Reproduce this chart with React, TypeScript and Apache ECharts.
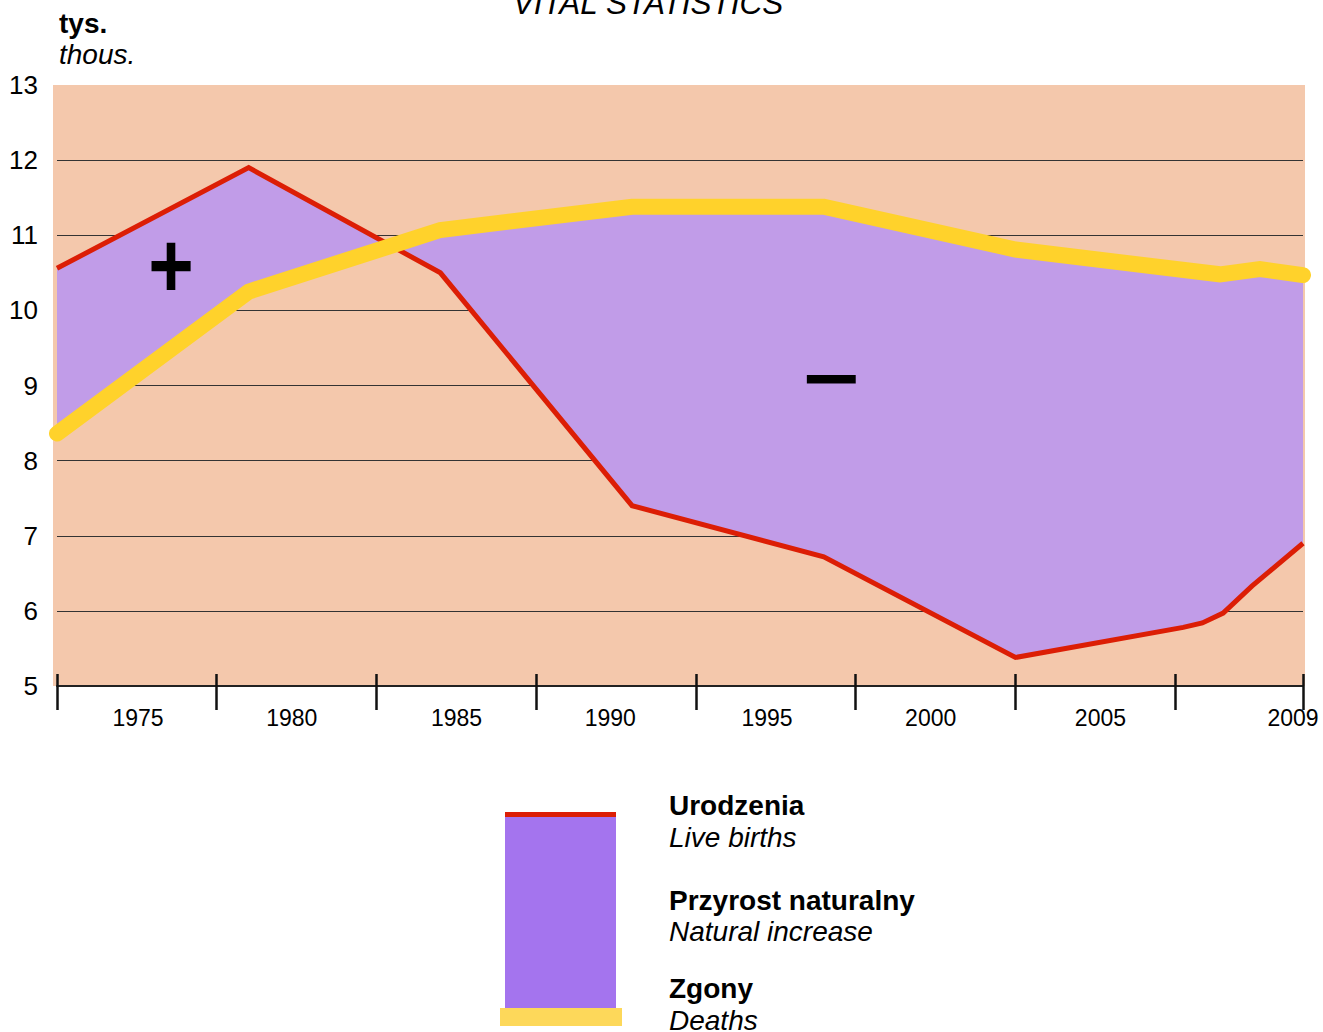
import React, { useEffect, useRef } from 'react';
import * as echarts from 'echarts';

// Live births (thous.)
const birthYears = [1970, 1976, 1982, 1988, 1994, 2000, 2005.25, 2005.85, 2006.5, 2007.4, 2009];
const births = [10.56, 11.9, 10.5, 7.4, 6.72, 5.38, 5.78, 5.84, 5.97, 6.33, 6.9];
// Deaths (thous.)
const deathYears = [1970, 1976, 1982, 1988, 1994, 2000, 2006.4, 2007.65, 2009];
const deaths = [8.36, 10.25, 11.07, 11.38, 11.38, 10.81, 10.48, 10.55, 10.47];
// x-axis tick labels (shown between ticks)
const xTickLabels = ['1975', '1980', '1985', '1990', '1995', '2000', '2005', '2009'];

const FONT = '"Liberation Sans", Arial, Helvetica, sans-serif';
const PEACH = '#F4C8AC';
const PURPLE = '#C19CE8';
const YELLOW = '#FFD22B';
const RED = '#DC1E05';
const LEG_PURPLE = '#A474EE';
const LEG_YELLOW = '#FDD85A';
// horizontal shift (px) of each between-tick label from its left tick
const LABEL_SHIFT = [81, 75, 80, 74, 71, 75, 85];

export default function App() {
  const ref = useRef<HTMLDivElement>(null);
  useEffect(() => {
    if (!ref.current) return;
    const chart = echarts.init(ref.current, undefined, { renderer: 'svg' });
    const xFormatter = (v: number) => {
      if (v === 2009) return '{e|' + xTickLabels[7] + '}';
      const idx = Math.round((v - 1970) / 5);
      if (idx >= 0 && idx < 7) return '{s' + idx + '|' + xTickLabels[idx] + '}';
      return '';
    };
    const labelRich: any = {
      e: { fontSize: 23, fontFamily: FONT, color: '#000', padding: [0, 20, 0, 0] },
    };
    LABEL_SHIFT.forEach((s, i) => {
      labelRich['s' + i] = { fontSize: 23, fontFamily: FONT, color: '#000', padding: [0, 0, 0, 2 * s] };
    });
    const gridColors = ['rgba(0,0,0,0)', '#333', '#333', '#333', '#333', '#333', '#333', '#333', 'rgba(0,0,0,0)'];
    const legendText = (text: string, y: number, bold: boolean) => ({
      type: 'text',
      x: 669,
      y,
      style: {
        text,
        fill: '#000',
        font: (bold ? 'normal bold ' : 'italic normal ') + '28px ' + FONT,
        align: 'left',
        verticalAlign: 'middle',
      },
    });
    chart.setOption({
      animation: false,
      backgroundColor: '#fff',
      grid: { left: 57, right: 20, top: 85, bottom: 346, containLabel: false, outerBoundsMode: 'none' },
      xAxis: [
        {
          type: 'value', min: 1970, max: 2009, interval: 5, position: 'bottom',
          axisLine: { show: true, onZero: false, lineStyle: { color: '#222', width: 2 } },
          axisTick: { show: true, length: 24, lineStyle: { color: '#111', width: 2.5 } },
          axisLabel: {
            formatter: xFormatter, rich: labelRich, margin: 20, color: '#000', fontSize: 23,
            fontFamily: FONT, showMinLabel: true, showMaxLabel: true,
          },
          splitLine: { show: false },
        },
        {
          type: 'value', min: 1970, max: 2009, interval: 5, position: 'bottom',
          axisLine: { show: false },
          axisTick: { show: true, inside: true, length: 12, lineStyle: { color: '#111', width: 2.5 } },
          axisLabel: { show: false },
          splitLine: { show: false },
        },
      ],
      yAxis: {
        type: 'value', min: 5, max: 13, interval: 1,
        axisLine: { show: false }, axisTick: { show: false },
        axisLabel: { fontSize: 26, color: '#000', margin: 19, fontFamily: FONT, padding: [6, 0, 0, 0] },
        splitLine: { show: true, lineStyle: { color: gridColors, width: 1 } },
      },
      series: [
        {
          type: 'custom',
          coordinateSystem: 'cartesian2d',
          xAxisIndex: 0, yAxisIndex: 0,
          data: [[1970, 5]],
          clip: false,
          silent: true,
          z: 2,
          renderItem: (params: any, api: any) => {
            const pts: number[][] = [];
            birthYears.forEach((yr, i) => pts.push(api.coord([yr, births[i]])));
            for (let i = deathYears.length - 1; i >= 0; i--) pts.push(api.coord([deathYears[i], deaths[i]]));
            return { type: 'polygon', shape: { points: pts }, style: { fill: PURPLE } };
          },
        },
        {
          name: 'Urodzenia', type: 'line', z: 3, showSymbol: false, clip: false, silent: true,
          data: birthYears.map((yr, i) => [yr, births[i]]),
          lineStyle: { color: RED, width: 5, cap: 'butt', join: 'miter' },
        },
        {
          name: 'Zgony', type: 'line', z: 4, showSymbol: false, clip: false, silent: true,
          data: deathYears.map((yr, i) => [yr, deaths[i]]),
          lineStyle: { color: YELLOW, width: 16, cap: 'round', join: 'miter' },
        },
      ],
      graphic: [
        { type: 'rect', z: -10, shape: { x: 53, y: 85, width: 1252, height: 601 }, style: { fill: PEACH } },
        {
          type: 'text', x: 648, y: 3, z: 10,
          style: { text: 'VITAL STATISTICS', fill: '#000', font: 'italic normal 31.5px ' + FONT, align: 'center', verticalAlign: 'middle' },
        },
        {
          type: 'text', x: 59, y: 23.3,
          style: { text: 'tys.', fill: '#000', font: 'normal bold 28px ' + FONT, align: 'left', verticalAlign: 'middle' },
        },
        {
          type: 'text', x: 59, y: 54.5,
          style: { text: 'thous.', fill: '#000', font: 'italic normal 28px ' + FONT, align: 'left', verticalAlign: 'middle' },
        },
        {
          type: 'text', x: 171, y: 265, z: 10, scaleY: 1.18,
          style: { text: '+', fill: '#000', font: 'normal bold 78px ' + FONT, align: 'center', verticalAlign: 'middle' },
        },
        {
          type: 'text', x: 831.5, y: 378, z: 10, scaleX: 1.25,
          style: { text: '−', fill: '#000', font: 'normal bold 78px ' + FONT, align: 'center', verticalAlign: 'middle' },
        },
        { type: 'rect', shape: { x: 505, y: 812, width: 111, height: 5 }, style: { fill: RED } },
        { type: 'rect', shape: { x: 505, y: 817, width: 111, height: 191 }, style: { fill: LEG_PURPLE } },
        { type: 'rect', shape: { x: 500, y: 1008, width: 122, height: 18 }, style: { fill: LEG_YELLOW } },
        legendText('Urodzenia', 805.6, true),
        legendText('Live births', 837.6, false),
        legendText('Przyrost naturalny', 900, true),
        legendText('Natural increase', 931.6, false),
        legendText('Zgony', 988.3, true),
        legendText('Deaths', 1020, false),
      ],
    });
    return () => chart.dispose();
  }, []);
  return <div ref={ref} style={{ position: 'absolute', left: 0, top: 0, width: 1323, height: 1032 }} />;
}
